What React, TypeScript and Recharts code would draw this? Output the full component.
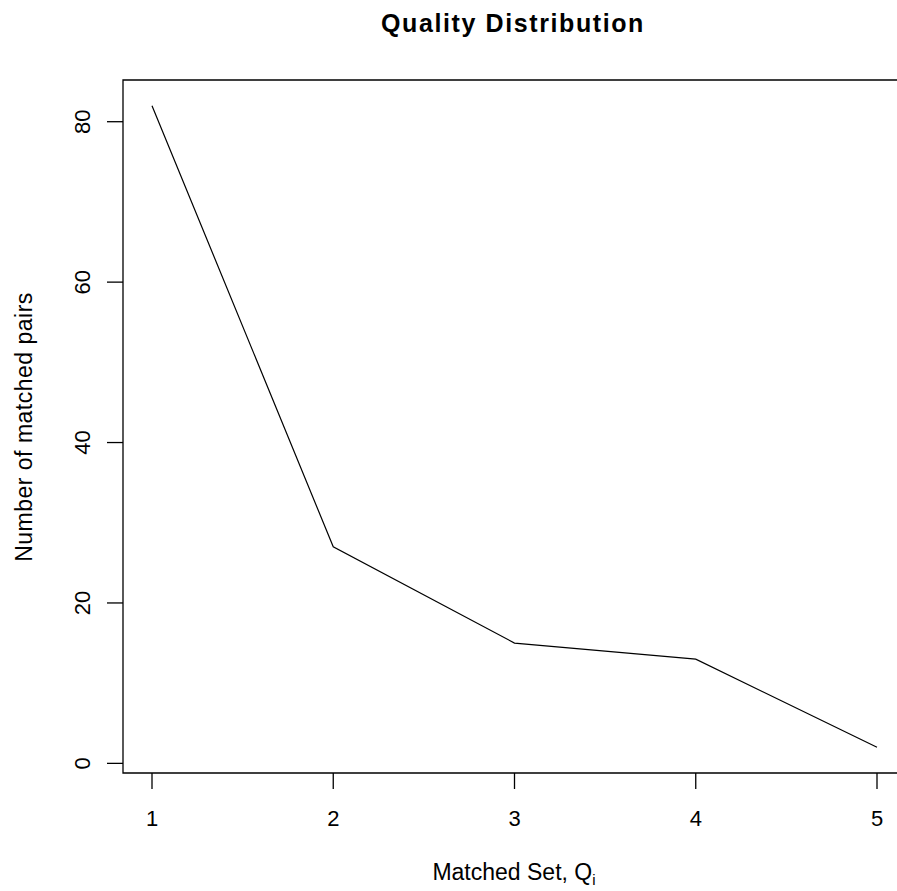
import React from 'react';
import {
    LineChart,
    Line,
    XAxis,
    YAxis,
    ReferenceArea
} from 'recharts';

const matchedSets = [1, 2, 3, 4, 5];
const matchedPairs = [82, 27, 15, 13, 2];
const yTicks = [0, 20, 40, 60, 80];

const chartData = matchedSets.map((set, i) => ({ set, pairs: matchedPairs[i] }));

const FONT = '"Liberation Sans", Arial, sans-serif';

const YTick = (props: any) => {
    const { x, y, payload } = props;
    const tx = x - 15;
    return (
        <text
            x={tx}
            y={y}
            transform={`rotate(-90, ${tx}, ${y})`}
            textAnchor="middle"
            fontFamily={FONT}
            fontSize={22}
            fill="#000"
        >
            {payload.value}
        </text>
    );
};

const XTick = (props: any) => {
    const { x, y, payload } = props;
    return (
        <text x={x} y={y + 35} textAnchor="middle" fontFamily={FONT} fontSize={22} fill="#000">
            {payload.value}
        </text>
    );
};

const App: React.FC = () => {
    return (
        <div style={{ position: 'absolute', left: 0, top: 0, width: 897, height: 891, overflow: 'hidden', background: '#fff' }}>
            <LineChart
                width={910}
                height={891}
                data={chartData}
                margin={{ top: 80, right: 4, bottom: 0, left: 0 }}
            >
                <XAxis
                    type="number"
                    dataKey="set"
                    domain={[0.84, 5.16]}
                    ticks={matchedSets}
                    allowDataOverflow
                    axisLine={false}
                    tickSize={16}
                    tickLine={{ stroke: '#000', strokeWidth: 1.3 }}
                    tick={<XTick />}
                    height={118}
                />
                <YAxis
                    type="number"
                    domain={[-1.2, 85.2]}
                    ticks={yTicks}
                    allowDataOverflow
                    axisLine={false}
                    tickSize={16}
                    tickLine={{ stroke: '#000', strokeWidth: 1.3 }}
                    tick={<YTick />}
                    width={123}
                />
                <ReferenceArea
                    x1={0.84}
                    x2={5.16}
                    y1={-1.2}
                    y2={85.2}
                    fill="none"
                    fillOpacity={0}
                    stroke="#000"
                    strokeWidth={1.3}
                    strokeOpacity={1}
                />
                <Line
                    type="linear"
                    dataKey="pairs"
                    stroke="#000"
                    strokeWidth={1.2}
                    dot={false}
                    isAnimationActive={false}
                />
            </LineChart>
            <svg
                width={897}
                height={891}
                style={{ position: 'absolute', left: 0, top: 0, pointerEvents: 'none' }}
            >
                <text x={513} y={32} textAnchor="middle" fontFamily={FONT} fontSize={25} fontWeight="bold" letterSpacing={1.6} fill="#000">
                    Quality Distribution
                </text>
                <text x={514} y={880} textAnchor="middle" fontFamily={FONT} fontSize={23} fill="#000">
                    Matched Set, Q
                    <tspan fontSize={15} dy={5}>i</tspan>
                </text>
                <text
                    x={32}
                    y={427}
                    transform="rotate(-90, 32, 427)"
                    textAnchor="middle"
                    fontFamily={FONT}
                    fontSize={23}
                    letterSpacing={0.5}
                    fill="#000"
                >
                    Number of matched pairs
                </text>
            </svg>
        </div>
    );
};

export default App;
